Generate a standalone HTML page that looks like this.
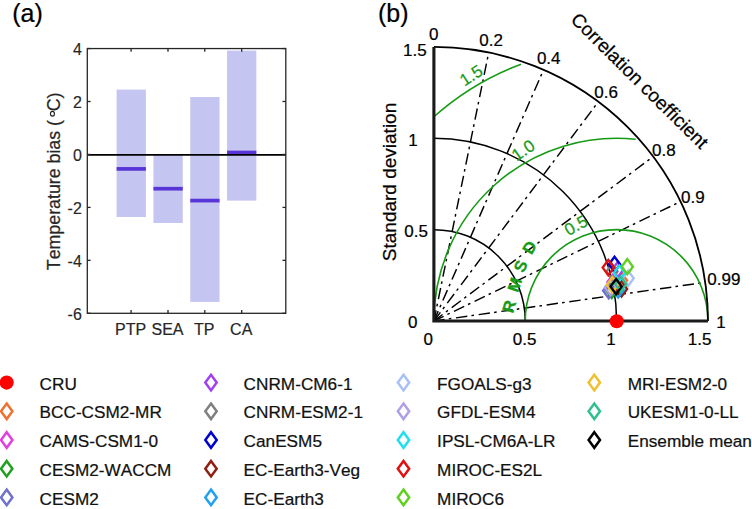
<!DOCTYPE html>
<html><head><meta charset="utf-8"><style>
html,body{margin:0;padding:0;background:#fff;width:752px;height:509px;overflow:hidden;font-family:"Liberation Sans",sans-serif}
svg{display:block} text{font-family:"Liberation Sans",sans-serif;font-kerning:none;font-variant-ligatures:none}
</style></head><body>
<svg width="752" height="509" viewBox="0 0 752 509"><text transform="translate(12.20,22.30)" font-size="25" fill="#000" stroke="#000" stroke-width="0.230">(a)</text>
<rect x="116.60" y="89.60" width="29.3" height="127.40" fill="#c5c5f2"/>
<rect x="153.45" y="155.00" width="29.3" height="68.00" fill="#c5c5f2"/>
<rect x="190.25" y="97.00" width="29.3" height="204.90" fill="#c5c5f2"/>
<rect x="227.05" y="50.60" width="29.3" height="150.00" fill="#c5c5f2"/>
<rect x="116.60" y="167.05" width="29.3" height="3.7" fill="#5835d6"/>
<rect x="153.45" y="186.85" width="29.3" height="3.7" fill="#5835d6"/>
<rect x="190.25" y="198.75" width="29.3" height="3.7" fill="#5835d6"/>
<rect x="227.05" y="150.65" width="29.3" height="3.7" fill="#5835d6"/>
<line x1="87.3" y1="154.9" x2="285.8" y2="154.9" stroke="#000" stroke-width="1.6"/>
<rect x="87.3" y="48.55" width="198.50" height="264.75" fill="none" stroke="#262626" stroke-width="1.3"/>
<line x1="131.1" y1="313.3" x2="131.1" y2="310.0" stroke="#262626" stroke-width="1.3"/>
<line x1="131.1" y1="48.55" x2="131.1" y2="51.849999999999994" stroke="#262626" stroke-width="1.3"/>
<line x1="168.0" y1="313.3" x2="168.0" y2="310.0" stroke="#262626" stroke-width="1.3"/>
<line x1="168.0" y1="48.55" x2="168.0" y2="51.849999999999994" stroke="#262626" stroke-width="1.3"/>
<line x1="204.8" y1="313.3" x2="204.8" y2="310.0" stroke="#262626" stroke-width="1.3"/>
<line x1="204.8" y1="48.55" x2="204.8" y2="51.849999999999994" stroke="#262626" stroke-width="1.3"/>
<line x1="241.7" y1="313.3" x2="241.7" y2="310.0" stroke="#262626" stroke-width="1.3"/>
<line x1="241.7" y1="48.55" x2="241.7" y2="51.849999999999994" stroke="#262626" stroke-width="1.3"/>
<line x1="87.3" y1="48.55" x2="90.6" y2="48.55" stroke="#262626" stroke-width="1.3"/>
<line x1="285.8" y1="48.55" x2="282.5" y2="48.55" stroke="#262626" stroke-width="1.3"/>
<text transform="translate(81.80,54.75)" font-size="16" fill="#262626" stroke="#262626" stroke-width="0.150" text-anchor="end">4</text>
<line x1="87.3" y1="101.50" x2="90.6" y2="101.50" stroke="#262626" stroke-width="1.3"/>
<line x1="285.8" y1="101.50" x2="282.5" y2="101.50" stroke="#262626" stroke-width="1.3"/>
<text transform="translate(81.80,107.70)" font-size="16" fill="#262626" stroke="#262626" stroke-width="0.150" text-anchor="end">2</text>
<line x1="87.3" y1="154.45" x2="90.6" y2="154.45" stroke="#262626" stroke-width="1.3"/>
<line x1="285.8" y1="154.45" x2="282.5" y2="154.45" stroke="#262626" stroke-width="1.3"/>
<text transform="translate(81.80,160.65)" font-size="16" fill="#262626" stroke="#262626" stroke-width="0.150" text-anchor="end">0</text>
<line x1="87.3" y1="207.40" x2="90.6" y2="207.40" stroke="#262626" stroke-width="1.3"/>
<line x1="285.8" y1="207.40" x2="282.5" y2="207.40" stroke="#262626" stroke-width="1.3"/>
<text transform="translate(81.80,213.60)" font-size="16" fill="#262626" stroke="#262626" stroke-width="0.150" text-anchor="end">-2</text>
<line x1="87.3" y1="260.35" x2="90.6" y2="260.35" stroke="#262626" stroke-width="1.3"/>
<line x1="285.8" y1="260.35" x2="282.5" y2="260.35" stroke="#262626" stroke-width="1.3"/>
<text transform="translate(81.80,266.55)" font-size="16" fill="#262626" stroke="#262626" stroke-width="0.150" text-anchor="end">-4</text>
<line x1="87.3" y1="313.30" x2="90.6" y2="313.30" stroke="#262626" stroke-width="1.3"/>
<line x1="285.8" y1="313.30" x2="282.5" y2="313.30" stroke="#262626" stroke-width="1.3"/>
<text transform="translate(81.80,319.50)" font-size="16" fill="#262626" stroke="#262626" stroke-width="0.150" text-anchor="end">-6</text>
<text transform="translate(130.60,335.00)" font-size="16" fill="#262626" stroke="#262626" stroke-width="0.200" text-anchor="middle">PTP</text>
<text transform="translate(167.50,335.00)" font-size="16" fill="#262626" stroke="#262626" stroke-width="0.200" text-anchor="middle">SEA</text>
<text transform="translate(204.30,335.00)" font-size="16" fill="#262626" stroke="#262626" stroke-width="0.200" text-anchor="middle">TP</text>
<text transform="translate(241.20,335.00)" font-size="16" fill="#262626" stroke="#262626" stroke-width="0.200" text-anchor="middle">CA</text>
<text transform="translate(59.70,270.20) rotate(-90)" font-size="17.8" fill="#262626" stroke="#262626" stroke-width="0.230">Temperature bias (</text>
<ellipse cx="52.45" cy="113.75" rx="2.0" ry="2.4" fill="none" stroke="#262626" stroke-width="1.15"/>
<text transform="translate(59.70,111.30) rotate(-90)" font-size="17.8" fill="#262626" stroke="#262626" stroke-width="0.230">C)</text>
<text transform="translate(378.00,22.30)" font-size="25" fill="#000" stroke="#000" stroke-width="0.230">(b)</text>
<defs><clipPath id="q"><path d="M433.9,321.0 L707.9499999999999,321.0 A274.04999999999995,274.04999999999995 0 0 0 433.9,46.950000000000045 Z"/></clipPath></defs>
<line x1="433.9" y1="321.0" x2="488.71" y2="52.49" stroke="#000" stroke-width="1.45" stroke-dasharray="11.4 4.2 2.6 4.7" stroke-dashoffset="0.6"/>
<line x1="433.9" y1="321.0" x2="543.52" y2="69.83" stroke="#000" stroke-width="1.45" stroke-dasharray="11.4 4.2 2.6 4.7" stroke-dashoffset="0.6"/>
<line x1="433.9" y1="321.0" x2="598.33" y2="101.76" stroke="#000" stroke-width="1.45" stroke-dasharray="11.4 4.2 2.6 4.7" stroke-dashoffset="0.6"/>
<line x1="433.9" y1="321.0" x2="653.14" y2="156.57" stroke="#000" stroke-width="1.45" stroke-dasharray="11.4 4.2 2.6 4.7" stroke-dashoffset="0.6"/>
<line x1="433.9" y1="321.0" x2="680.54" y2="201.54" stroke="#000" stroke-width="1.45" stroke-dasharray="11.4 4.2 2.6 4.7" stroke-dashoffset="0.6"/>
<line x1="433.9" y1="321.0" x2="705.21" y2="282.34" stroke="#000" stroke-width="1.45" stroke-dasharray="11.4 4.2 2.6 4.7" stroke-dashoffset="0.6"/>
<path d="M525.25,321.0 A91.35,91.35 0 0 0 433.9,229.65" fill="none" stroke="#000" stroke-width="1.5"/>
<path d="M616.60,321.0 A182.70,182.70 0 0 0 433.9,138.30" fill="none" stroke="#000" stroke-width="1.5"/>
<path d="M707.95,321.00 A91.35,91.35 0 0 0 525.25,321.00" fill="none" stroke="#179b17" stroke-width="1.6"/>
<path d="M635.70,139.30 A182.70,182.70 0 0 0 433.90,321.00" fill="none" stroke="#179b17" stroke-width="1.6"/>
<path d="M521.07,64.14 A274.05,274.05 0 0 0 433.90,116.74" fill="none" stroke="#179b17" stroke-width="1.6"/>
<path d="M707.95,321.0 A274.05,274.05 0 0 0 433.9,46.95" fill="none" stroke="#000" stroke-width="1.8"/>
<path d="M433.9,46.95 L433.9,321.0 L707.95,321.0" fill="none" stroke="#1a1a1a" stroke-width="3.1"/>
<text transform="translate(402.95,55.50)" font-size="17" fill="#000" stroke="#000" stroke-width="0.230">1.5</text>
<text transform="translate(408.15,145.50)" font-size="17" fill="#000" stroke="#000" stroke-width="0.230">1</text>
<text transform="translate(404.30,236.70)" font-size="17" fill="#000" stroke="#000" stroke-width="0.230">0.5</text>
<text transform="translate(408.10,328.20)" font-size="17" fill="#000" stroke="#000" stroke-width="0.230">0</text>
<text transform="translate(423.60,345.40)" font-size="17" fill="#000" stroke="#000" stroke-width="0.230">0</text>
<text transform="translate(512.70,345.40)" font-size="17" fill="#000" stroke="#000" stroke-width="0.230">0.5</text>
<text transform="translate(606.15,345.20)" font-size="17" fill="#000" stroke="#000" stroke-width="0.230">1</text>
<text transform="translate(687.75,345.00)" font-size="17" fill="#000" stroke="#000" stroke-width="0.230">1.5</text>
<text transform="translate(428.90,39.60)" font-size="17" fill="#000" stroke="#000" stroke-width="0.230">0</text>
<text transform="translate(479.30,46.00)" font-size="17" fill="#000" stroke="#000" stroke-width="0.230">0.2</text>
<text transform="translate(536.90,64.00)" font-size="17" fill="#000" stroke="#000" stroke-width="0.230">0.4</text>
<text transform="translate(594.30,98.10)" font-size="17" fill="#000" stroke="#000" stroke-width="0.230">0.6</text>
<text transform="translate(652.10,155.50)" font-size="17" fill="#000" stroke="#000" stroke-width="0.230">0.8</text>
<text transform="translate(681.10,202.80)" font-size="17" fill="#000" stroke="#000" stroke-width="0.230">0.9</text>
<text transform="translate(707.30,284.70)" font-size="17" fill="#000" stroke="#000" stroke-width="0.230">0.99</text>
<text transform="translate(716.15,328.30)" font-size="17" fill="#000" stroke="#000" stroke-width="0.230">1</text>
<text transform="translate(396.10,261.20) rotate(-90)" font-size="19" fill="#000" stroke="#000" stroke-width="0.230">Standard deviation</text>
<text transform="translate(569.80,20.70) rotate(44.7)" font-size="19" fill="#000" stroke="#000" stroke-width="0.230">Correlation coefficient</text>
<text transform="translate(568.50,236.20) rotate(-29)" font-size="17" fill="#179b17" stroke="#179b17" stroke-width="0.230">0.5</text>
<text transform="translate(516.80,161.80) rotate(-35)" font-size="17" fill="#179b17" stroke="#179b17" stroke-width="0.230">1.0</text>
<text transform="translate(464.40,86.80) rotate(-33)" font-size="17" fill="#179b17" stroke="#179b17" stroke-width="0.230">1.5</text>
<text transform="translate(512.94,313.66) rotate(-74)" font-size="16.5" fill="#179b17" stroke="#179b17" stroke-width="0.350" font-weight="bold">R</text>
<text transform="translate(518.09,293.06) rotate(-72)" font-size="16.5" fill="#179b17" stroke="#179b17" stroke-width="0.350" font-weight="bold">M</text>
<text transform="translate(523.79,273.57) rotate(-67)" font-size="16.5" fill="#179b17" stroke="#179b17" stroke-width="0.350" font-weight="bold">S</text>
<text transform="translate(531.44,255.61) rotate(-60)" font-size="16.5" fill="#179b17" stroke="#179b17" stroke-width="0.350" font-weight="bold">D</text>
<path d="M621.50,272.90 L627.10,280.50 L621.50,288.10 L615.90,280.50 Z" fill="none" stroke="#f07030" stroke-width="2.4"/>
<path d="M613.00,274.40 L618.60,282.00 L613.00,289.60 L607.40,282.00 Z" fill="none" stroke="#e040e0" stroke-width="2.4"/>
<path d="M611.80,282.90 L617.40,290.50 L611.80,298.10 L606.20,290.50 Z" fill="none" stroke="#20a020" stroke-width="2.4"/>
<path d="M608.70,283.10 L614.30,290.70 L608.70,298.30 L603.10,290.70 Z" fill="none" stroke="#7070d0" stroke-width="2.4"/>
<path d="M617.80,262.00 L623.40,269.60 L617.80,277.20 L612.20,269.60 Z" fill="none" stroke="#a040f0" stroke-width="2.4"/>
<path d="M612.00,263.90 L617.60,271.50 L612.00,279.10 L606.40,271.50 Z" fill="none" stroke="#808080" stroke-width="2.4"/>
<path d="M614.50,256.70 L620.10,264.30 L614.50,271.90 L608.90,264.30 Z" fill="none" stroke="#0000d0" stroke-width="2.4"/>
<path d="M621.50,281.40 L627.10,289.00 L621.50,296.60 L615.90,289.00 Z" fill="none" stroke="#902010" stroke-width="2.4"/>
<path d="M618.20,282.30 L623.80,289.90 L618.20,297.50 L612.60,289.90 Z" fill="none" stroke="#20a0f0" stroke-width="2.4"/>
<path d="M628.10,270.70 L633.70,278.30 L628.10,285.90 L622.50,278.30 Z" fill="none" stroke="#a8c0f8" stroke-width="2.4"/>
<path d="M610.50,279.90 L616.10,287.50 L610.50,295.10 L604.90,287.50 Z" fill="none" stroke="#b0a0e8" stroke-width="2.4"/>
<path d="M619.40,265.40 L625.00,273.00 L619.40,280.60 L613.80,273.00 Z" fill="none" stroke="#20e0f0" stroke-width="2.4"/>
<path d="M608.30,260.00 L613.90,267.60 L608.30,275.20 L602.70,267.60 Z" fill="none" stroke="#e01010" stroke-width="2.4"/>
<path d="M627.30,259.10 L632.90,266.70 L627.30,274.30 L621.70,266.70 Z" fill="none" stroke="#60d020" stroke-width="2.4"/>
<path d="M612.40,277.30 L618.00,284.90 L612.40,292.50 L606.80,284.90 Z" fill="none" stroke="#f0c030" stroke-width="2.4"/>
<path d="M620.70,276.50 L626.30,284.10 L620.70,291.70 L615.10,284.10 Z" fill="none" stroke="#30c090" stroke-width="2.4"/>
<path d="M616.10,279.00 L621.70,286.60 L616.10,294.20 L610.50,286.60 Z" fill="none" stroke="#000000" stroke-width="2.4"/>
<circle cx="616.7" cy="321.2" r="7.05" fill="#ff0000"/>
<circle cx="6.7" cy="382.60" r="7.05" fill="#ff0000"/>
<text transform="translate(39.60,389.70)" font-size="17.2" fill="#111" stroke="#111" stroke-width="0.230">CRU</text>
<path d="M6.70,403.50 L12.40,411.30 L6.70,419.10 L1.00,411.30 Z" fill="none" stroke="#f07030" stroke-width="2.5"/>
<text transform="translate(39.60,418.40)" font-size="17.2" fill="#111" stroke="#111" stroke-width="0.230">BCC-CSM2-MR</text>
<path d="M6.70,432.20 L12.40,440.00 L6.70,447.80 L1.00,440.00 Z" fill="none" stroke="#e040e0" stroke-width="2.5"/>
<text transform="translate(39.60,447.10)" font-size="17.2" fill="#111" stroke="#111" stroke-width="0.230">CAMS-CSM1-0</text>
<path d="M6.70,460.90 L12.40,468.70 L6.70,476.50 L1.00,468.70 Z" fill="none" stroke="#20a020" stroke-width="2.5"/>
<text transform="translate(39.60,475.80)" font-size="17.2" fill="#111" stroke="#111" stroke-width="0.230">CESM2-WACCM</text>
<path d="M6.70,489.60 L12.40,497.40 L6.70,505.20 L1.00,497.40 Z" fill="none" stroke="#7070d0" stroke-width="2.5"/>
<text transform="translate(39.60,504.50)" font-size="17.2" fill="#111" stroke="#111" stroke-width="0.230">CESM2</text>
<path d="M211.00,374.80 L216.70,382.60 L211.00,390.40 L205.30,382.60 Z" fill="none" stroke="#a040f0" stroke-width="2.5"/>
<text transform="translate(243.60,389.70)" font-size="17.2" fill="#111" stroke="#111" stroke-width="0.230">CNRM-CM6-1</text>
<path d="M211.00,403.50 L216.70,411.30 L211.00,419.10 L205.30,411.30 Z" fill="none" stroke="#808080" stroke-width="2.5"/>
<text transform="translate(243.60,418.40)" font-size="17.2" fill="#111" stroke="#111" stroke-width="0.230">CNRM-ESM2-1</text>
<path d="M211.00,432.20 L216.70,440.00 L211.00,447.80 L205.30,440.00 Z" fill="none" stroke="#0000d0" stroke-width="2.5"/>
<text transform="translate(243.60,447.10)" font-size="17.2" fill="#111" stroke="#111" stroke-width="0.230">CanESM5</text>
<path d="M211.00,460.90 L216.70,468.70 L211.00,476.50 L205.30,468.70 Z" fill="none" stroke="#902010" stroke-width="2.5"/>
<text transform="translate(243.60,475.80)" font-size="17.2" fill="#111" stroke="#111" stroke-width="0.230">EC-Earth3-Veg</text>
<path d="M211.00,489.60 L216.70,497.40 L211.00,505.20 L205.30,497.40 Z" fill="none" stroke="#20a0f0" stroke-width="2.5"/>
<text transform="translate(243.60,504.50)" font-size="17.2" fill="#111" stroke="#111" stroke-width="0.230">EC-Earth3</text>
<path d="M403.50,374.80 L409.20,382.60 L403.50,390.40 L397.80,382.60 Z" fill="none" stroke="#a8c0f8" stroke-width="2.5"/>
<text transform="translate(437.10,389.70)" font-size="17.2" fill="#111" stroke="#111" stroke-width="0.230">FGOALS-g3</text>
<path d="M403.50,403.50 L409.20,411.30 L403.50,419.10 L397.80,411.30 Z" fill="none" stroke="#b0a0e8" stroke-width="2.5"/>
<text transform="translate(437.10,418.40)" font-size="17.2" fill="#111" stroke="#111" stroke-width="0.230">GFDL-ESM4</text>
<path d="M403.50,432.20 L409.20,440.00 L403.50,447.80 L397.80,440.00 Z" fill="none" stroke="#20e0f0" stroke-width="2.5"/>
<text transform="translate(437.10,447.10)" font-size="17.2" fill="#111" stroke="#111" stroke-width="0.230">IPSL-CM6A-LR</text>
<path d="M403.50,460.90 L409.20,468.70 L403.50,476.50 L397.80,468.70 Z" fill="none" stroke="#e01010" stroke-width="2.5"/>
<text transform="translate(437.10,475.80)" font-size="17.2" fill="#111" stroke="#111" stroke-width="0.230">MIROC-ES2L</text>
<path d="M403.50,489.60 L409.20,497.40 L403.50,505.20 L397.80,497.40 Z" fill="none" stroke="#60d020" stroke-width="2.5"/>
<text transform="translate(437.10,504.50)" font-size="17.2" fill="#111" stroke="#111" stroke-width="0.230">MIROC6</text>
<path d="M594.30,374.80 L600.00,382.60 L594.30,390.40 L588.60,382.60 Z" fill="none" stroke="#f0c030" stroke-width="2.5"/>
<text transform="translate(627.70,389.70)" font-size="17.2" fill="#111" stroke="#111" stroke-width="0.230">MRI-ESM2-0</text>
<path d="M594.30,403.50 L600.00,411.30 L594.30,419.10 L588.60,411.30 Z" fill="none" stroke="#30c090" stroke-width="2.5"/>
<text transform="translate(627.70,418.40)" font-size="17.2" fill="#111" stroke="#111" stroke-width="0.230">UKESM1-0-LL</text>
<path d="M594.30,432.20 L600.00,440.00 L594.30,447.80 L588.60,440.00 Z" fill="none" stroke="#000000" stroke-width="2.5"/>
<text transform="translate(627.70,447.10)" font-size="17.2" fill="#111" stroke="#111" stroke-width="0.230">Ensemble mean</text></svg>
</body></html>
